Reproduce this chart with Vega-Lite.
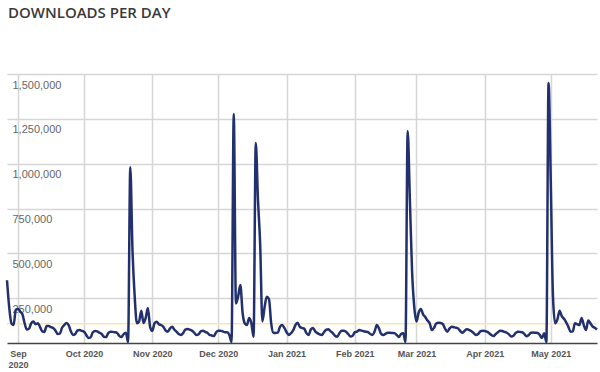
{
  "$schema": "https://vega.github.io/schema/vega-lite/v6.json",
  "width": 590,
  "height": 269,
  "autosize": {"type": "none"},
  "padding": {"left": 7, "top": 74, "right": 3, "bottom": 29},
  "background": "white",
  "title": {
    "text": "DOWNLOADS PER DAY",
    "anchor": "start",
    "frame": "group",
    "offset": 53,
    "dx": 1,
    "font": "Open Sans",
    "fontSize": 15,
    "fontWeight": 600,
    "color": "#3a3a3a"
  },
  "config": {
    "view": {"stroke": null},
    "axis": {"gridColor": "#d6d6d6", "gridWidth": 1.5}
  },
  "datasets": {
    "downloads": [
      {"date": "2020-08-27", "downloads": 350000},
      {"date": "2020-08-28", "downloads": 200000},
      {"date": "2020-08-29", "downloads": 110000},
      {"date": "2020-08-30", "downloads": 100000},
      {"date": "2020-08-31", "downloads": 185000},
      {"date": "2020-09-01", "downloads": 190000},
      {"date": "2020-09-02", "downloads": 175000},
      {"date": "2020-09-03", "downloads": 160000},
      {"date": "2020-09-04", "downloads": 110000},
      {"date": "2020-09-05", "downloads": 75000},
      {"date": "2020-09-06", "downloads": 80000},
      {"date": "2020-09-07", "downloads": 110000},
      {"date": "2020-09-08", "downloads": 120000},
      {"date": "2020-09-09", "downloads": 105000},
      {"date": "2020-09-10", "downloads": 110000},
      {"date": "2020-09-11", "downloads": 90000},
      {"date": "2020-09-12", "downloads": 65000},
      {"date": "2020-09-13", "downloads": 62000},
      {"date": "2020-09-14", "downloads": 95000},
      {"date": "2020-09-15", "downloads": 95000},
      {"date": "2020-09-16", "downloads": 88000},
      {"date": "2020-09-17", "downloads": 84000},
      {"date": "2020-09-18", "downloads": 70000},
      {"date": "2020-09-19", "downloads": 50000},
      {"date": "2020-09-20", "downloads": 52000},
      {"date": "2020-09-21", "downloads": 85000},
      {"date": "2020-09-22", "downloads": 100000},
      {"date": "2020-09-23", "downloads": 112000},
      {"date": "2020-09-24", "downloads": 100000},
      {"date": "2020-09-25", "downloads": 65000},
      {"date": "2020-09-26", "downloads": 45000},
      {"date": "2020-09-27", "downloads": 50000},
      {"date": "2020-09-28", "downloads": 70000},
      {"date": "2020-09-29", "downloads": 72000},
      {"date": "2020-09-30", "downloads": 68000},
      {"date": "2020-10-01", "downloads": 63000},
      {"date": "2020-10-02", "downloads": 45000},
      {"date": "2020-10-03", "downloads": 28000},
      {"date": "2020-10-04", "downloads": 32000},
      {"date": "2020-10-05", "downloads": 60000},
      {"date": "2020-10-06", "downloads": 67000},
      {"date": "2020-10-07", "downloads": 65000},
      {"date": "2020-10-08", "downloads": 57000},
      {"date": "2020-10-09", "downloads": 50000},
      {"date": "2020-10-10", "downloads": 35000},
      {"date": "2020-10-11", "downloads": 33000},
      {"date": "2020-10-12", "downloads": 55000},
      {"date": "2020-10-13", "downloads": 63000},
      {"date": "2020-10-14", "downloads": 62000},
      {"date": "2020-10-15", "downloads": 60000},
      {"date": "2020-10-16", "downloads": 56000},
      {"date": "2020-10-17", "downloads": 40000},
      {"date": "2020-10-18", "downloads": 33000},
      {"date": "2020-10-19", "downloads": 50000},
      {"date": "2020-10-20", "downloads": 57000},
      {"date": "2020-10-21", "downloads": 5000},
      {"date": "2020-10-22", "downloads": 980000},
      {"date": "2020-10-23", "downloads": 520000},
      {"date": "2020-10-24", "downloads": 260000},
      {"date": "2020-10-25", "downloads": 110000},
      {"date": "2020-10-26", "downloads": 120000},
      {"date": "2020-10-27", "downloads": 180000},
      {"date": "2020-10-28", "downloads": 111000},
      {"date": "2020-10-29", "downloads": 140000},
      {"date": "2020-10-30", "downloads": 195000},
      {"date": "2020-10-31", "downloads": 90000},
      {"date": "2020-11-01", "downloads": 67000},
      {"date": "2020-11-02", "downloads": 110000},
      {"date": "2020-11-03", "downloads": 119000},
      {"date": "2020-11-04", "downloads": 105000},
      {"date": "2020-11-05", "downloads": 100000},
      {"date": "2020-11-06", "downloads": 91000},
      {"date": "2020-11-07", "downloads": 70000},
      {"date": "2020-11-08", "downloads": 63000},
      {"date": "2020-11-09", "downloads": 80000},
      {"date": "2020-11-10", "downloads": 91000},
      {"date": "2020-11-11", "downloads": 75000},
      {"date": "2020-11-12", "downloads": 63000},
      {"date": "2020-11-13", "downloads": 50000},
      {"date": "2020-11-14", "downloads": 45000},
      {"date": "2020-11-15", "downloads": 55000},
      {"date": "2020-11-16", "downloads": 75000},
      {"date": "2020-11-17", "downloads": 78000},
      {"date": "2020-11-18", "downloads": 75000},
      {"date": "2020-11-19", "downloads": 69000},
      {"date": "2020-11-20", "downloads": 58000},
      {"date": "2020-11-21", "downloads": 45000},
      {"date": "2020-11-22", "downloads": 48000},
      {"date": "2020-11-23", "downloads": 65000},
      {"date": "2020-11-24", "downloads": 69000},
      {"date": "2020-11-25", "downloads": 62000},
      {"date": "2020-11-26", "downloads": 57000},
      {"date": "2020-11-27", "downloads": 45000},
      {"date": "2020-11-28", "downloads": 42000},
      {"date": "2020-11-29", "downloads": 39000},
      {"date": "2020-11-30", "downloads": 60000},
      {"date": "2020-12-01", "downloads": 69000},
      {"date": "2020-12-02", "downloads": 69000},
      {"date": "2020-12-03", "downloads": 65000},
      {"date": "2020-12-04", "downloads": 60000},
      {"date": "2020-12-05", "downloads": 60000},
      {"date": "2020-12-06", "downloads": 45000},
      {"date": "2020-12-07", "downloads": 5000},
      {"date": "2020-12-08", "downloads": 1277000},
      {"date": "2020-12-09", "downloads": 220000},
      {"date": "2020-12-10", "downloads": 260000},
      {"date": "2020-12-11", "downloads": 323000},
      {"date": "2020-12-12", "downloads": 170000},
      {"date": "2020-12-13", "downloads": 110000},
      {"date": "2020-12-14", "downloads": 100000},
      {"date": "2020-12-15", "downloads": 139000},
      {"date": "2020-12-16", "downloads": 110000},
      {"date": "2020-12-17", "downloads": 35000},
      {"date": "2020-12-18", "downloads": 1115000},
      {"date": "2020-12-19", "downloads": 800000},
      {"date": "2020-12-20", "downloads": 550000},
      {"date": "2020-12-21", "downloads": 120000},
      {"date": "2020-12-22", "downloads": 200000},
      {"date": "2020-12-23", "downloads": 258000},
      {"date": "2020-12-24", "downloads": 245000},
      {"date": "2020-12-25", "downloads": 110000},
      {"date": "2020-12-26", "downloads": 57000},
      {"date": "2020-12-27", "downloads": 56000},
      {"date": "2020-12-28", "downloads": 58000},
      {"date": "2020-12-29", "downloads": 90000},
      {"date": "2020-12-30", "downloads": 100000},
      {"date": "2020-12-31", "downloads": 84000},
      {"date": "2021-01-01", "downloads": 60000},
      {"date": "2021-01-02", "downloads": 45000},
      {"date": "2021-01-03", "downloads": 55000},
      {"date": "2021-01-04", "downloads": 70000},
      {"date": "2021-01-05", "downloads": 100000},
      {"date": "2021-01-06", "downloads": 113000},
      {"date": "2021-01-07", "downloads": 90000},
      {"date": "2021-01-08", "downloads": 84000},
      {"date": "2021-01-09", "downloads": 80000},
      {"date": "2021-01-10", "downloads": 55000},
      {"date": "2021-01-11", "downloads": 45000},
      {"date": "2021-01-12", "downloads": 75000},
      {"date": "2021-01-13", "downloads": 84000},
      {"date": "2021-01-14", "downloads": 65000},
      {"date": "2021-01-15", "downloads": 55000},
      {"date": "2021-01-16", "downloads": 48000},
      {"date": "2021-01-17", "downloads": 45000},
      {"date": "2021-01-18", "downloads": 60000},
      {"date": "2021-01-19", "downloads": 74000},
      {"date": "2021-01-20", "downloads": 76000},
      {"date": "2021-01-21", "downloads": 65000},
      {"date": "2021-01-22", "downloads": 55000},
      {"date": "2021-01-23", "downloads": 40000},
      {"date": "2021-01-24", "downloads": 35000},
      {"date": "2021-01-25", "downloads": 55000},
      {"date": "2021-01-26", "downloads": 69000},
      {"date": "2021-01-27", "downloads": 68000},
      {"date": "2021-01-28", "downloads": 63000},
      {"date": "2021-01-29", "downloads": 50000},
      {"date": "2021-01-30", "downloads": 36000},
      {"date": "2021-01-31", "downloads": 40000},
      {"date": "2021-02-01", "downloads": 60000},
      {"date": "2021-02-02", "downloads": 63000},
      {"date": "2021-02-03", "downloads": 72000},
      {"date": "2021-02-04", "downloads": 69000},
      {"date": "2021-02-05", "downloads": 66000},
      {"date": "2021-02-06", "downloads": 63000},
      {"date": "2021-02-07", "downloads": 60000},
      {"date": "2021-02-08", "downloads": 50000},
      {"date": "2021-02-09", "downloads": 45000},
      {"date": "2021-02-10", "downloads": 65000},
      {"date": "2021-02-11", "downloads": 100000},
      {"date": "2021-02-12", "downloads": 80000},
      {"date": "2021-02-13", "downloads": 50000},
      {"date": "2021-02-14", "downloads": 45000},
      {"date": "2021-02-15", "downloads": 52000},
      {"date": "2021-02-16", "downloads": 57000},
      {"date": "2021-02-17", "downloads": 57000},
      {"date": "2021-02-18", "downloads": 56000},
      {"date": "2021-02-19", "downloads": 55000},
      {"date": "2021-02-20", "downloads": 45000},
      {"date": "2021-02-21", "downloads": 33000},
      {"date": "2021-02-22", "downloads": 50000},
      {"date": "2021-02-23", "downloads": 55000},
      {"date": "2021-02-24", "downloads": 5000},
      {"date": "2021-02-25", "downloads": 1182000},
      {"date": "2021-02-26", "downloads": 800000},
      {"date": "2021-02-27", "downloads": 400000},
      {"date": "2021-02-28", "downloads": 200000},
      {"date": "2021-03-01", "downloads": 120000},
      {"date": "2021-03-02", "downloads": 170000},
      {"date": "2021-03-03", "downloads": 190000},
      {"date": "2021-03-04", "downloads": 160000},
      {"date": "2021-03-05", "downloads": 145000},
      {"date": "2021-03-06", "downloads": 125000},
      {"date": "2021-03-07", "downloads": 110000},
      {"date": "2021-03-08", "downloads": 72000},
      {"date": "2021-03-09", "downloads": 85000},
      {"date": "2021-03-10", "downloads": 110000},
      {"date": "2021-03-11", "downloads": 113000},
      {"date": "2021-03-12", "downloads": 112000},
      {"date": "2021-03-13", "downloads": 105000},
      {"date": "2021-03-14", "downloads": 80000},
      {"date": "2021-03-15", "downloads": 63000},
      {"date": "2021-03-16", "downloads": 80000},
      {"date": "2021-03-17", "downloads": 91000},
      {"date": "2021-03-18", "downloads": 88000},
      {"date": "2021-03-19", "downloads": 85000},
      {"date": "2021-03-20", "downloads": 80000},
      {"date": "2021-03-21", "downloads": 65000},
      {"date": "2021-03-22", "downloads": 57000},
      {"date": "2021-03-23", "downloads": 70000},
      {"date": "2021-03-24", "downloads": 76000},
      {"date": "2021-03-25", "downloads": 72000},
      {"date": "2021-03-26", "downloads": 65000},
      {"date": "2021-03-27", "downloads": 55000},
      {"date": "2021-03-28", "downloads": 45000},
      {"date": "2021-03-29", "downloads": 50000},
      {"date": "2021-03-30", "downloads": 65000},
      {"date": "2021-03-31", "downloads": 69000},
      {"date": "2021-04-01", "downloads": 67000},
      {"date": "2021-04-02", "downloads": 63000},
      {"date": "2021-04-03", "downloads": 55000},
      {"date": "2021-04-04", "downloads": 45000},
      {"date": "2021-04-05", "downloads": 39000},
      {"date": "2021-04-06", "downloads": 50000},
      {"date": "2021-04-07", "downloads": 60000},
      {"date": "2021-04-08", "downloads": 69000},
      {"date": "2021-04-09", "downloads": 67000},
      {"date": "2021-04-10", "downloads": 62000},
      {"date": "2021-04-11", "downloads": 57000},
      {"date": "2021-04-12", "downloads": 48000},
      {"date": "2021-04-13", "downloads": 36000},
      {"date": "2021-04-14", "downloads": 40000},
      {"date": "2021-04-15", "downloads": 55000},
      {"date": "2021-04-16", "downloads": 63000},
      {"date": "2021-04-17", "downloads": 62000},
      {"date": "2021-04-18", "downloads": 60000},
      {"date": "2021-04-19", "downloads": 50000},
      {"date": "2021-04-20", "downloads": 38000},
      {"date": "2021-04-21", "downloads": 45000},
      {"date": "2021-04-22", "downloads": 57000},
      {"date": "2021-04-23", "downloads": 58000},
      {"date": "2021-04-24", "downloads": 57000},
      {"date": "2021-04-25", "downloads": 56000},
      {"date": "2021-04-26", "downloads": 45000},
      {"date": "2021-04-27", "downloads": 28000},
      {"date": "2021-04-28", "downloads": 55000},
      {"date": "2021-04-29", "downloads": 5000},
      {"date": "2021-04-30", "downloads": 1450000},
      {"date": "2021-05-01", "downloads": 900000},
      {"date": "2021-05-02", "downloads": 260000},
      {"date": "2021-05-03", "downloads": 110000},
      {"date": "2021-05-04", "downloads": 130000},
      {"date": "2021-05-05", "downloads": 180000},
      {"date": "2021-05-06", "downloads": 150000},
      {"date": "2021-05-07", "downloads": 135000},
      {"date": "2021-05-08", "downloads": 115000},
      {"date": "2021-05-09", "downloads": 90000},
      {"date": "2021-05-10", "downloads": 63000},
      {"date": "2021-05-11", "downloads": 65000},
      {"date": "2021-05-12", "downloads": 110000},
      {"date": "2021-05-13", "downloads": 105000},
      {"date": "2021-05-14", "downloads": 100000},
      {"date": "2021-05-15", "downloads": 140000},
      {"date": "2021-05-16", "downloads": 100000},
      {"date": "2021-05-17", "downloads": 72000},
      {"date": "2021-05-18", "downloads": 125000},
      {"date": "2021-05-19", "downloads": 110000},
      {"date": "2021-05-20", "downloads": 92000},
      {"date": "2021-05-21", "downloads": 85000},
      {"date": "2021-05-22", "downloads": 75000}
    ],
    "average": [{"avg": 108000}]
  },
  "layer": [
    {
      "data": {"name": "average"},
      "mark": {"type": "rule", "color": "#fbe3b2", "strokeWidth": 1.5},
      "encoding": {
        "y": {
          "field": "avg",
          "type": "quantitative",
          "scale": {"domain": [0, 1500000], "nice": false},
          "axis": {
            "title": null,
            "values": [250000, 500000, 750000, 1000000, 1250000, 1500000],
            "format": ",.0f",
            "domain": false,
            "ticks": false,
            "grid": true,
            "labelAlign": "left",
            "labelBaseline": "top",
            "labelPadding": -5,
            "labelOffset": 5,
            "labelFont": "Liberation Sans",
            "labelFontSize": 11,
            "labelColor": "#666666"
          }
        }
      }
    },
    {
      "data": {"name": "downloads"},
      "mark": {"type": "line", "interpolate": "monotone", "color": "#22306e", "strokeWidth": 2.5},
      "encoding": {
        "x": {
          "field": "date",
          "type": "temporal",
          "scale": {"type": "utc", "nice": false},
          "axis": {
            "title": null,
            "tickCount": {"interval": "month", "step": 1},
            "ticks": false,
            "domain": true,
            "domainColor": "#444444",
            "domainWidth": 1.5,
            "grid": true,
            "labelFont": "Liberation Sans",
            "labelFontSize": 9,
            "labelFontWeight": "bold",
            "labelColor": "#555555",
            "labelPadding": 6,
            "labelLineHeight": 11,
            "labelFlush": false,
            "labelOverlap": false,
            "labelExpr": "utcFormat(datum.value, '%b %Y') == 'Sep 2020' ? ['Sep', '2020'] : utcFormat(datum.value, '%b %Y')"
          }
        },
        "y": {
          "field": "downloads",
          "type": "quantitative",
          "scale": {"domain": [0, 1500000], "nice": false},
          "axis": {
            "title": null,
            "values": [250000, 500000, 750000, 1000000, 1250000, 1500000],
            "format": ",.0f",
            "domain": false,
            "ticks": false,
            "grid": true,
            "labelAlign": "left",
            "labelBaseline": "top",
            "labelPadding": -5,
            "labelOffset": 5,
            "labelFont": "Liberation Sans",
            "labelFontSize": 11,
            "labelColor": "#666666"
          }
        }
      }
    }
  ]
}
